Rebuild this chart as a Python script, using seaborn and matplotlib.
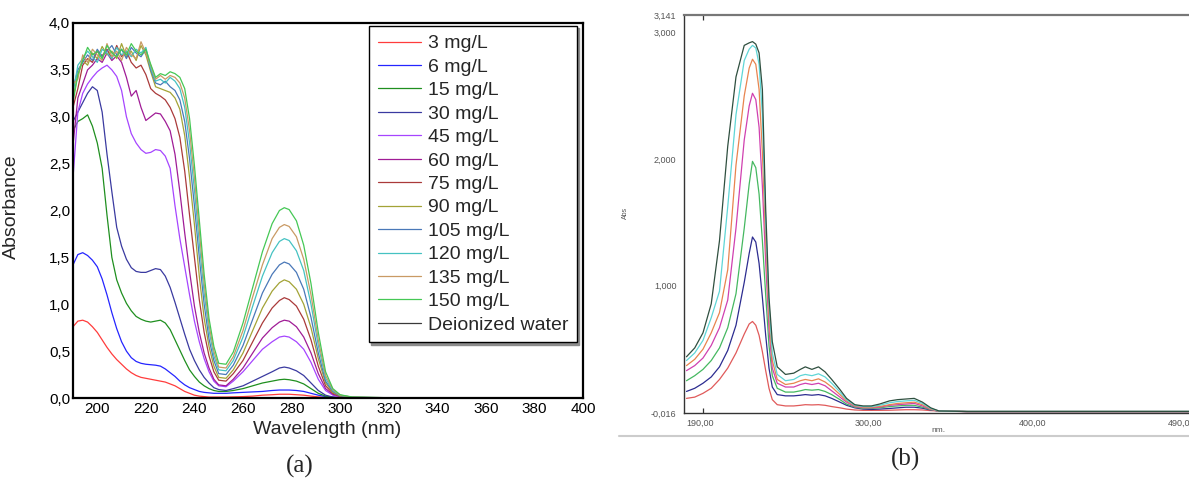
import numpy as np
import pandas as pd
import matplotlib
matplotlib.use("Agg")
import matplotlib.pyplot as plt
from matplotlib.lines import Line2D
import seaborn as sns

# ---------------- Panel (a) data ----------------
wl_a = [190, 192, 194, 196, 198, 200, 202, 204, 206, 208, 210, 212, 214, 216, 218, 220, 222, 224, 226, 228,
        230, 232, 234, 236, 238, 240, 242, 244, 246, 248, 250, 253, 256, 260, 264, 268, 272, 275, 277, 279,
        282, 285, 288, 291, 294, 297, 300, 305, 320, 400]

a_3 = [0.76, 0.82, 0.83, 0.81, 0.76, 0.70, 0.62, 0.54, 0.47, 0.41, 0.36, 0.31, 0.27, 0.24, 0.22, 0.21, 0.20, 0.19, 0.18, 0.17,
       0.15, 0.13, 0.10, 0.07, 0.05, 0.03, 0.02, 0.015, 0.01, 0.01, 0.01, 0.01, 0.012, 0.015, 0.02, 0.03, 0.035, 0.04, 0.04, 0.04,
       0.035, 0.03, 0.02, 0.012, 0.006, 0.003, 0.002, 0.001, 0.0, 0.0]
a_6 = [1.42, 1.53, 1.55, 1.52, 1.47, 1.40, 1.27, 1.10, 0.91, 0.74, 0.60, 0.50, 0.43, 0.39, 0.37, 0.36, 0.355, 0.35, 0.34, 0.31,
       0.27, 0.23, 0.18, 0.14, 0.11, 0.09, 0.07, 0.06, 0.055, 0.05, 0.05, 0.05, 0.055, 0.06, 0.065, 0.07, 0.08, 0.085, 0.085, 0.085,
       0.08, 0.07, 0.05, 0.03, 0.015, 0.007, 0.004, 0.002, 0.001, 0.0]
a_15 = [2.85, 2.95, 2.98, 3.02, 2.90, 2.72, 2.45, 1.95, 1.50, 1.26, 1.12, 1.01, 0.93, 0.87, 0.84, 0.82, 0.81, 0.82, 0.83, 0.80,
        0.73, 0.62, 0.51, 0.40, 0.30, 0.23, 0.17, 0.13, 0.10, 0.08, 0.07, 0.07, 0.08, 0.10, 0.13, 0.16, 0.18, 0.195, 0.20, 0.195,
        0.18, 0.15, 0.10, 0.05, 0.02, 0.008, 0.004, 0.002, 0.001, 0.001]
a_30 = [2.95, 3.05, 3.15, 3.25, 3.32, 3.28, 3.05, 2.60, 2.20, 1.82, 1.62, 1.48, 1.39, 1.35, 1.34, 1.34, 1.36, 1.38, 1.37, 1.30,
        1.18, 1.02, 0.85, 0.68, 0.52, 0.40, 0.30, 0.22, 0.16, 0.11, 0.09, 0.08, 0.10, 0.13, 0.18, 0.23, 0.28, 0.32, 0.33, 0.32,
        0.29, 0.24, 0.16, 0.08, 0.03, 0.01, 0.005, 0.002, 0.001, 0.0]
a_45 = [2.35, 3.05, 3.25, 3.35, 3.42, 3.48, 3.52, 3.55, 3.50, 3.43, 3.28, 3.00, 2.82, 2.72, 2.65, 2.61, 2.62, 2.65, 2.64, 2.58,
        2.45, 2.05, 1.70, 1.40, 1.10, 0.82, 0.60, 0.42, 0.28, 0.18, 0.13, 0.12, 0.18, 0.28, 0.40, 0.52, 0.60, 0.65, 0.66, 0.65,
        0.60, 0.52, 0.38, 0.20, 0.08, 0.03, 0.01, 0.004, 0.002, 0.0]
a_60 = [2.70, 3.20, 3.35, 3.50, 3.55, 3.62, 3.58, 3.68, 3.60, 3.65, 3.58, 3.42, 3.22, 3.28, 3.10, 2.96, 3.00, 3.04, 3.03, 2.95,
        2.85, 2.60, 2.20, 1.76, 1.35, 0.98, 0.70, 0.48, 0.32, 0.20, 0.14, 0.13, 0.20, 0.32, 0.48, 0.64, 0.75, 0.81, 0.83, 0.82,
        0.76, 0.65, 0.48, 0.26, 0.10, 0.04, 0.015, 0.005, 0.002, 0.0]
a_75 = [3.10, 3.30, 3.55, 3.62, 3.58, 3.70, 3.65, 3.72, 3.62, 3.76, 3.64, 3.70, 3.58, 3.52, 3.55, 3.45, 3.30, 3.25, 3.22, 3.18,
        3.10, 2.98, 2.78, 2.42, 1.95, 1.50, 1.05, 0.70, 0.45, 0.28, 0.19, 0.18, 0.26, 0.40, 0.60, 0.80, 0.96, 1.04, 1.07, 1.05,
        0.98, 0.84, 0.62, 0.34, 0.13, 0.05, 0.02, 0.006, 0.002, 0.0]
a_90 = [3.20, 3.45, 3.60, 3.55, 3.68, 3.62, 3.75, 3.66, 3.70, 3.62, 3.78, 3.64, 3.70, 3.60, 3.76, 3.66, 3.48, 3.32, 3.30, 3.28,
        3.26, 3.20, 3.08, 2.80, 2.35, 1.85, 1.30, 0.85, 0.55, 0.34, 0.22, 0.21, 0.30, 0.48, 0.72, 0.96, 1.14, 1.23, 1.26, 1.24,
        1.16, 1.00, 0.75, 0.42, 0.16, 0.06, 0.02, 0.006, 0.002, 0.0]
a_105 = [3.30, 3.50, 3.58, 3.66, 3.60, 3.72, 3.64, 3.70, 3.76, 3.66, 3.72, 3.62, 3.74, 3.68, 3.64, 3.72, 3.50, 3.36, 3.34, 3.38,
         3.32, 3.28, 3.18, 2.95, 2.55, 2.05, 1.50, 1.00, 0.63, 0.40, 0.26, 0.25, 0.35, 0.56, 0.84, 1.12, 1.32, 1.42, 1.45, 1.43,
         1.34, 1.16, 0.86, 0.48, 0.18, 0.07, 0.025, 0.007, 0.002, 0.0]
a_120 = [3.25, 3.55, 3.62, 3.70, 3.64, 3.58, 3.72, 3.68, 3.62, 3.74, 3.66, 3.70, 3.64, 3.72, 3.68, 3.74, 3.52, 3.38, 3.40, 3.36,
         3.42, 3.38, 3.30, 3.10, 2.72, 2.22, 1.65, 1.12, 0.72, 0.45, 0.30, 0.29, 0.40, 0.65, 0.98, 1.30, 1.55, 1.67, 1.70, 1.68,
         1.57, 1.36, 1.00, 0.56, 0.21, 0.08, 0.03, 0.008, 0.003, 0.0]
a_135 = [3.35, 3.40, 3.66, 3.58, 3.72, 3.66, 3.60, 3.78, 3.64, 3.70, 3.60, 3.74, 3.66, 3.62, 3.80, 3.68, 3.55, 3.40, 3.44, 3.40,
         3.44, 3.42, 3.36, 3.20, 2.85, 2.35, 1.78, 1.22, 0.78, 0.50, 0.33, 0.32, 0.44, 0.72, 1.08, 1.42, 1.70, 1.82, 1.85, 1.83,
         1.72, 1.48, 1.10, 0.62, 0.24, 0.09, 0.03, 0.009, 0.003, 0.0]
a_150 = [3.15, 3.45, 3.60, 3.74, 3.66, 3.70, 3.62, 3.76, 3.68, 3.64, 3.72, 3.66, 3.78, 3.70, 3.66, 3.72, 3.56, 3.42, 3.46, 3.44,
         3.48, 3.46, 3.42, 3.30, 2.98, 2.48, 1.90, 1.32, 0.85, 0.55, 0.37, 0.36, 0.49, 0.80, 1.18, 1.56, 1.86, 2.00, 2.03, 2.01,
         1.89, 1.63, 1.22, 0.70, 0.28, 0.10, 0.035, 0.01, 0.003, 0.002]
a_water = [0.003, 0.003, 0.003, 0.003, 0.003, 0.003, 0.003, 0.003, 0.003, 0.003, 0.003, 0.003, 0.003, 0.003,
           0.003, 0.003, 0.003, 0.003, 0.003, 0.003, 0.003, 0.003, 0.003, 0.003, 0.003, 0.003, 0.003, 0.003, 0.003,
           0.003, 0.003, 0.003, 0.003, 0.003, 0.003, 0.003, 0.003, 0.003, 0.003, 0.003, 0.003, 0.003, 0.003, 0.003,
           0.003, 0.003, 0.003, 0.003, 0.003, 0.003]

labels_a = ["3 mg/L", "6 mg/L", "15 mg/L", "30 mg/L", "45 mg/L", "60 mg/L", "75 mg/L", "90 mg/L",
            "105 mg/L", "120 mg/L", "135 mg/L", "150 mg/L", "Deionized water"]
series_a = [a_3, a_6, a_15, a_30, a_45, a_60, a_75, a_90, a_105, a_120, a_135, a_150, a_water]
colors_a = ["#ff3c3c", "#2525ff", "#1f8f1f", "#3a3aa0", "#a645ff", "#a01c96", "#aa3a3a", "#a3a336",
            "#4a78b8", "#45c2c2", "#c99a64", "#45c855", "#3a3a3a"]

yticks_a = [0.0, 0.5, 1.0, 1.5, 2.0, 2.5, 3.0, 3.5, 4.0]
yticklabels_a = ["0,0", "0,5", "1,0", "1,5", "2,0", "2,5", "3,0", "3,5", "4,0"]
xticks_a = [200, 220, 240, 260, 280, 300, 320, 340, 360, 380, 400]
xticklabels_a = ["200", "220", "240", "260", "280", "300", "320", "340", "360", "380", "400"]

# ---------------- Panel (b) data ----------------
wl_b = [190, 195, 200, 205, 210, 215, 220, 225, 228, 230, 232, 234, 236, 238, 240, 242, 245, 250, 255, 259,
        262, 266, 270, 274, 278, 283, 287, 292, 297, 302, 307, 313, 318, 323, 328, 333, 338, 343, 360, 400, 495]

b_red = [0.10, 0.11, 0.14, 0.18, 0.25, 0.34, 0.46, 0.61, 0.69, 0.71, 0.68, 0.60, 0.47, 0.32, 0.18, 0.09, 0.05, 0.04, 0.04, 0.045,
         0.05, 0.048, 0.05, 0.045, 0.035, 0.025, 0.015, 0.008, 0.005, 0.005, 0.005, 0.006, 0.008, 0.01, 0.01, 0.008, 0.003, 0.0,
         -0.005, -0.005, -0.005]
b_navy = [0.155, 0.18, 0.22, 0.27, 0.35, 0.48, 0.68, 1.02, 1.25, 1.38, 1.34, 1.17, 0.90, 0.60, 0.34, 0.19, 0.13, 0.12, 0.12, 0.125,
          0.13, 0.125, 0.13, 0.12, 0.10, 0.07, 0.045, 0.025, 0.015, 0.012, 0.015, 0.02, 0.025, 0.03, 0.03, 0.022, 0.008, 0.0,
          -0.004, -0.004, -0.004]
b_green = [0.24, 0.28, 0.33, 0.40, 0.50, 0.66, 0.93, 1.45, 1.80, 1.98, 1.93, 1.72, 1.35, 0.92, 0.52, 0.28, 0.18, 0.15, 0.15, 0.16,
           0.17, 0.165, 0.17, 0.155, 0.13, 0.09, 0.055, 0.03, 0.02, 0.02, 0.025, 0.035, 0.04, 0.045, 0.045, 0.03, 0.01, 0.0,
           -0.004, -0.004, -0.004]
b_magenta = [0.32, 0.36, 0.42, 0.52, 0.66, 0.88, 1.45, 2.15, 2.42, 2.52, 2.47, 2.25, 1.78, 1.18, 0.65, 0.34, 0.22, 0.19, 0.19, 0.21,
             0.22, 0.21, 0.22, 0.20, 0.16, 0.11, 0.07, 0.035, 0.025, 0.025, 0.03, 0.045, 0.05, 0.055, 0.06, 0.04, 0.012, 0.0,
             -0.005, -0.005, -0.005]
b_orange = [0.36, 0.41, 0.49, 0.62, 0.78, 1.12, 1.95, 2.50, 2.72, 2.79, 2.75, 2.55, 2.05, 1.35, 0.75, 0.40, 0.25, 0.21, 0.22, 0.24,
            0.25, 0.24, 0.255, 0.23, 0.19, 0.13, 0.08, 0.04, 0.03, 0.03, 0.035, 0.05, 0.06, 0.065, 0.07, 0.05, 0.015, 0.0,
            -0.004, -0.004, -0.004]
b_cyan = [0.40, 0.46, 0.56, 0.74, 0.95, 1.62, 2.35, 2.78, 2.87, 2.90, 2.88, 2.75, 2.35, 1.50, 0.85, 0.46, 0.29, 0.24, 0.25, 0.28,
          0.29, 0.28, 0.295, 0.27, 0.22, 0.15, 0.09, 0.045, 0.035, 0.035, 0.045, 0.065, 0.075, 0.08, 0.085, 0.06, 0.02, 0.0,
          -0.004, -0.004, -0.004]
b_dark = [0.43, 0.50, 0.62, 0.85, 1.35, 2.10, 2.65, 2.90, 2.92, 2.93, 2.91, 2.84, 2.55, 1.60, 0.90, 0.55, 0.35, 0.29, 0.30, 0.33,
          0.35, 0.33, 0.35, 0.31, 0.25, 0.17, 0.10, 0.05, 0.04, 0.04, 0.055, 0.08, 0.09, 0.095, 0.10, 0.07, 0.025, 0.0,
          -0.004, -0.004, -0.004]

series_b = [b_red, b_navy, b_green, b_magenta, b_orange, b_cyan, b_dark]
names_b = ["c1", "c2", "c3", "c4", "c5", "c6", "c7"]
colors_b = ["#e05a5a", "#2c2c90", "#45b860", "#d040b0", "#e8844e", "#5fd6d6", "#2f4f3f"]

yticks_b = [-0.016, 1.0, 2.0, 3.0, 3.141]
yticklabels_b = ["-0,016", "1,000", "2,000", "3,000", "3,141"]
xticks_b = [190, 300, 400, 490]
xticklabels_b = ["190,00", "300,00", "400,00", "490,00"]
xminor_b = [200, 300, 400]

# ---------------- Figure ----------------
sns.set_style("white")
plt.rcParams["font.family"] = ["Liberation Sans", "DejaVu Sans"]

W, H = 1189, 480
fig = plt.figure(figsize=(W / 100, H / 100), dpi=100)
fig.patch.set_facecolor("white")

# Panel (a)
ax_a = fig.add_axes([73 / W, (H - 398) / H, 510 / W, 375 / H])
df_a = pd.DataFrame({"wl": np.tile(wl_a, len(labels_a)),
                     "absorb": np.concatenate(series_a),
                     "sample": np.repeat(labels_a, len(wl_a))})
for lab, col in zip(labels_a, colors_a):
    sub = df_a[df_a["sample"] == lab]
    sns.lineplot(data=sub, x="wl", y="absorb", color=col, linewidth=0.9, label=lab,
                 ax=ax_a, estimator=None, sort=False)

ax_a.set_xlim(190, 400)
ax_a.set_ylim(0, 4.0)
ax_a.set_yticks(yticks_a)
ax_a.set_yticklabels(yticklabels_a)
ax_a.set_xticks(xticks_a)
ax_a.set_xticklabels(xticklabels_a)
ax_a.tick_params(axis="both", length=0, labelsize=11, colors="black")
ax_a.tick_params(axis="y", pad=2)
ax_a.tick_params(axis="x", pad=3)
for s in ax_a.spines.values():
    s.set_visible(True)
    s.set_color("black")
    s.set_linewidth(1.6)
ax_a.set_xlabel("Wavelength (nm)", fontsize=14)
ax_a.set_ylabel("Absorbance", fontsize=14)
ax_a.xaxis.set_label_coords(0.499, -0.062)
ax_a.yaxis.set_label_coords(-0.104, 0.51)

h, l = ax_a.get_legend_handles_labels()
leg = ax_a.legend(h, l, loc="upper right", bbox_to_anchor=(0.988, 0.992), borderaxespad=0,
                  fontsize=14, frameon=True, fancybox=False, edgecolor="black", framealpha=1,
                  handlelength=2.2, handletextpad=0.35, labelspacing=0.30, borderpad=0.45,
                  shadow={"ox": 1.5, "oy": -1.5, "color": "0.55", "alpha": 1})
leg.get_frame().set_linewidth(1.0)

# Panel (b)
ax_b = fig.add_axes([684 / W, (H - 413) / H, (W - 684) / W, 398 / H])
df_b = pd.DataFrame({"wl": np.tile(wl_b, len(names_b)),
                     "absorb": np.concatenate(series_b),
                     "curve": np.repeat(names_b, len(wl_b))})
for nm, col in zip(names_b, colors_b):
    sub = df_b[df_b["curve"] == nm]
    sns.lineplot(data=sub, x="wl", y="absorb", color=col, linewidth=0.9, ax=ax_b,
                 estimator=None, sort=False, legend=False)

ax_b.set_xlim(188.5, 494.5)
ax_b.set_ylim(-0.016, 3.141)
ax_b.set_yticks(yticks_b)
ax_b.set_yticklabels(yticklabels_b)
ax_b.set_xticks(xticks_b)
ax_b.set_xticklabels(xticklabels_b)
ax_b.set_xticks(xminor_b, minor=True)
ax_b.tick_params(axis="y", which="major", length=4, width=0.8, direction="out", color="#555555",
                 labelsize=6.5, labelcolor="#555555", pad=1.5)
ax_b.tick_params(axis="x", which="major", length=0, labelsize=6.5, labelcolor="#555555", pad=4)
ax_b.tick_params(axis="x", which="minor", length=3.5, width=0.9, direction="in", color="#333333",
                 top=True, bottom=True)
ax_b.get_xticklabels()[0].set_ha("left")
ax_b.set_xlabel("")
ax_b.set_ylabel("")
for side in ["left", "bottom"]:
    ax_b.spines[side].set_color("#333333")
    ax_b.spines[side].set_linewidth(1.0)
ax_b.spines["top"].set_color("#777777")
ax_b.spines["top"].set_linewidth(1.6)
ax_b.spines["right"].set_visible(False)

fig.text(625 / W, 1 - 213 / H, "Abs", rotation=90, fontsize=5, color="#555555",
         ha="center", va="center")
fig.text(938 / W, 1 - 431 / H, "nm.", fontsize=6, color="#555555", ha="center", va="center")
fig.add_artist(Line2D([619 / W, 1.0], [1 - 436 / H, 1 - 436 / H], color="#cccccc", linewidth=1.5,
                      transform=fig.transFigure))

fig.text(300 / W, 1 - 466 / H, "(a)", fontsize=18, family=["Liberation Serif", "DejaVu Serif"],
         ha="center", va="center")
fig.text(906 / W, 1 - 459 / H, "(b)", fontsize=18, family=["Liberation Serif", "DejaVu Serif"],
         ha="center", va="center")

fig.savefig("out.png", dpi=100, facecolor="white")
